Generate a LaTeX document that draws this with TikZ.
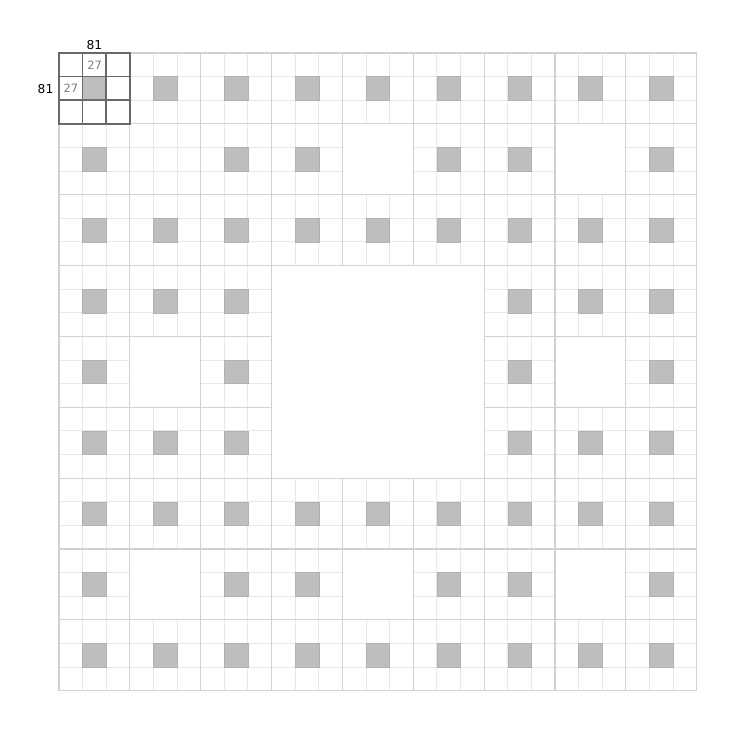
\documentclass[tikz,border=0pt]{standalone}
\usepackage{fontspec}
\setmainfont{DejaVu Sans}
\definecolor{cellline}{RGB}{232,232,232}
\definecolor{blockline}{RGB}{210,210,210}
\definecolor{holefill}{RGB}{191,189,190}
\definecolor{holeedge}{RGB}{178,176,177}
\definecolor{markline}{RGB}{105,105,105}
\definecolor{labelgray}{RGB}{125,125,125}

% one 3x3 block: column, row, centre filled (1) or not (0)
\newcommand\carpetblock[3]{%
  \begin{scope}[shift={(59+#1*70.86,53+#2*70.86)}]
    \foreach \k in {1,2} {
      \draw[cellgrid] (\k*23.62,0) -- (\k*23.62,70.86);
      \draw[cellgrid] (0,\k*23.62) -- (70.86,\k*23.62);
    }
    \ifnum#3=1 \filldraw[centercell] (23.62,23.62) rectangle (47.24,47.24);\fi
    \draw[blockframe] (0,0) rectangle (70.86,70.86);
  \end{scope}}

\begin{document}
\begin{tikzpicture}[x=1bp, y=-1bp,
  cellgrid/.style={draw=cellline, line width=1bp},
  blockframe/.style={draw=blockline, line width=1.1bp},
  centercell/.style={fill=holefill, draw=holeedge, line width=0.5bp},
  markgrid/.style={draw=markline, line width=1.5bp},
  sizelabel/.style={font=\fontsize{12.3}{14}\selectfont, text=black, inner sep=0pt},
  celllabel/.style={font=\fontsize{11.5}{13}\selectfont, text=labelgray, inner sep=0pt}]
  \useasboundingbox (0,0) rectangle (744,732);

  % the carpet, block by block
  \foreach \r in {0,...,8} {
    \foreach \c in {0,...,8} {
      \pgfmathtruncatemacro\hole{or(and(mod(\r,3)==1,mod(\c,3)==1),and(abs(\r-4)<2,abs(\c-4)<2))}
      \ifnum\hole=0
        \carpetblock{\c}{\r}{1}
      \fi
    }
  }
  \carpetblock{1}{1}{0}

  % the marked first block
  \foreach \k in {1,2} {
    \draw[markgrid] (59+\k*23.62,53) -- (59+\k*23.62,123.86);
    \draw[markgrid] (59,53+\k*23.62) -- (129.86,53+\k*23.62);
  }
  \draw[markgrid] (59,53) rectangle (129.86,123.86);

  % sizes
  \node[sizelabel, anchor=south] (widthlabel) at (94.4,49.5) {81};
  \node[sizelabel, anchor=east] (heightlabel) at (53.5,88.6) {81};
  \node[celllabel] (cellwidth) at (94.6,64.9) {27};
  \node[celllabel] (cellheight) at (70.8,88.6) {27};
\end{tikzpicture}
\end{document}
